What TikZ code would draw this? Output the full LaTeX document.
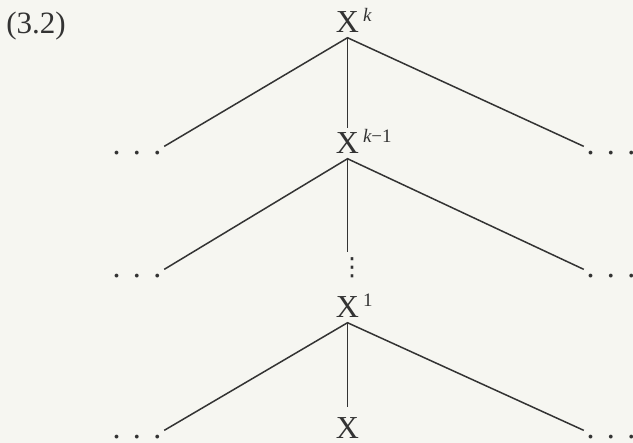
\documentclass[tikz,border=0pt]{standalone}
\usepackage{fontspec}
\setmainfont{Liberation Serif}
\newfontfamily\symfont{DejaVu Sans}
\usepackage{xcolor}
\definecolor{ink}{RGB}{51,51,51}
\definecolor{paper}{RGB}{246,246,241}
\newcommand{\hdots}{.\hspace{6.25pt}.\hspace{6.25pt}.}
\newcommand{\upidx}[1]{\rlap{\smash{\hspace{2pt}\raisebox{5.5pt}{\fontsize{9.5}{10}\selectfont#1}}}}

\begin{document}
\begin{tikzpicture}[x=0.5pt,y=-0.5pt,line width=0.75pt,color=ink,
  every node/.style={font=\fontsize{16}{19}\selectfont},
  var/.style={inner sep=2pt},
  dots/.style={inner xsep=1pt,inner ysep=2pt}]
  \fill[paper] (0,0) rectangle (633,443);
  \useasboundingbox (0,0) rectangle (633,443);
  \node[font=\fontsize{15.5}{18}\selectfont] (eqno) at (36,26) {(3.2)};
  \node[var] (top) at (347.5,22.5) {X\upidx{\itshape k}};
  \node[var] (mid) at (347.5,143.5) {X\upidx{\itshape k\upshape −1}};
  \node[var] (low) at (347.5,307.5) {X\upidx{1}};
  \node[var] (base) at (347.5,428.5) {X};
  \node[font=\symfont\fontsize{12.5}{14}\selectfont,inner sep=2.5pt] (vd) at (352,267.5) {⋮};
  \foreach \n/\y in {1/153,2/276,3/437} {
    \node[dots] (l\n) at (137,\y) {\hdots};
    \node[dots] (r\n) at (611,\y) {\hdots};
  }
  % branches
  \draw (l1.north east) -- (top.south) -- (r1.north west);
  \draw (l2.north east) -- (mid.south) -- (r2.north west);
  \draw (l3.north east) -- (low.south) -- (r3.north west);
  % trunk
  \draw (top.south) -- (mid.north);
  \draw (mid.south) -- (mid.south |- vd.north);
  \draw[shorten >=3pt] (low.south) -- (base.north);
\end{tikzpicture}
\end{document}
